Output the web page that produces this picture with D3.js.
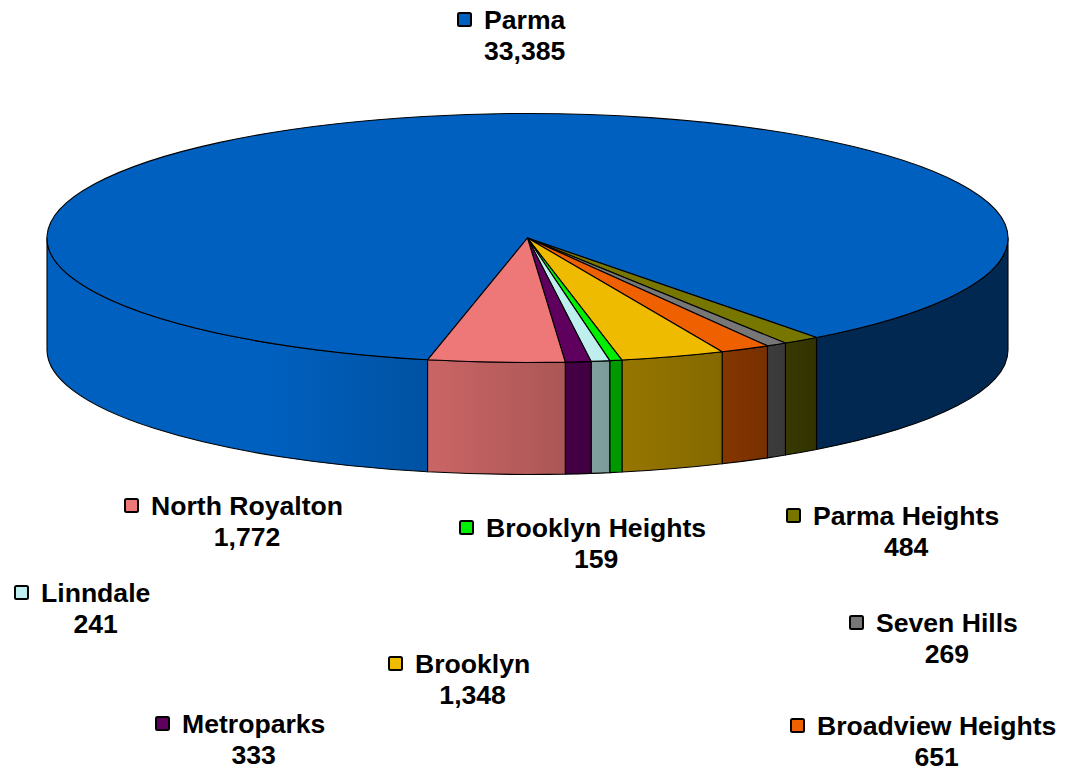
<!DOCTYPE html>
<html>
<head>
<meta charset="utf-8">
<script src="https://cdn.jsdelivr.net/npm/d3@7"></script>
<style>
  html, body { margin: 0; padding: 0; background: #fff; }
  svg { display: block; }
  text { font-family: "Liberation Sans", Arial, sans-serif; font-weight: bold; font-size: 26.6px; fill: #000; }
</style>
</head>
<body>
<svg id="chart" width="1065" height="770"></svg>
<script>
const categories = ['Parma', 'Parma Heights', 'Seven Hills', 'Broadview Heights', 'Brooklyn',
  'Brooklyn Heights', 'Linndale', 'Metroparks', 'North Royalton'];
const values = [33385, 484, 269, 651, 1348, 159, 241, 333, 1772];
const colors = ['#0060bf', '#777700', '#777777', '#ee6000', '#eebb00',
  '#00ee00', '#bfeeee', '#5f005f', '#ee7777'];

// where each legend entry sits: x of the name, baseline of the name
const labelX = [484, 813, 876, 817, 415, 486, 41, 182, 151];
const labelY = [29, 525, 632, 735, 673, 537, 602, 733, 515];

// wall shading, brightness against x
const shadeX = [47, 270, 428, 566, 592, 623, 722, 768, 817, 1008];
const shadeK = [1, 1, 0.85, 0.72, 0.67, 0.63, 0.56, 0.5, 0.42, 0.42];

const cx = 527.5;
const cy = 238;
const rx = 480.5;
const ry = 124.5;
const depth = 112;
const startDeg = 192;

const svg = d3.select('#chart');
const color = d3.scaleOrdinal(categories, colors);
const rad = (deg) => deg * Math.PI / 180;

const slices = d3.pie()
  .sort(null)
  .startAngle(rad(startDeg))
  .endAngle(rad(startDeg + 360))(values)
  .map((d, i) => ({ ...d, name: categories[i], i }));

const px = (a) => cx + rx * Math.sin(a);
const py = (a) => cy - ry * Math.cos(a);

// one gradient per colour, so the walls darken left to right across slices
const defs = svg.append('defs');
slices.forEach((d) => {
  const grad = defs.append('linearGradient')
    .attr('id', `wall-${d.i}`)
    .attr('gradientUnits', 'userSpaceOnUse')
    .attr('x1', shadeX[0])
    .attr('x2', shadeX[shadeX.length - 1])
    .attr('y1', 0)
    .attr('y2', 0);
  shadeX.forEach((x, j) => {
    const c = d3.rgb(color(d.name));
    grad.append('stop')
      .attr('offset', (x - shadeX[0]) / (shadeX[shadeX.length - 1] - shadeX[0]))
      .attr('stop-color', d3.rgb(c.r * shadeK[j], c.g * shadeK[j], c.b * shadeK[j]).formatHex());
  });
});

// visible part of the wall: the front half of the ellipse, 90..270 deg (and one turn on)
const walls = [];
slices.forEach((d) => {
  [[90, 270], [450, 630]].forEach(([lo, hi]) => {
    const a0 = Math.max(d.startAngle, rad(lo));
    const a1 = Math.min(d.endAngle, rad(hi));
    if (a1 > a0) walls.push({ a0, a1, i: d.i });
  });
});

const wallPath = ({ a0, a1 }) => {
  const large = a1 - a0 > Math.PI ? 1 : 0;
  return `M${px(a0)},${py(a0)}`
    + `A${rx},${ry} 0 ${large} 1 ${px(a1)},${py(a1)}`
    + `L${px(a1)},${py(a1) + depth}`
    + `A${rx},${ry} 0 ${large} 0 ${px(a0)},${py(a0) + depth}Z`;
};

svg.append('g').selectAll('path')
  .data(walls)
  .enter()
  .append('path')
  .attr('d', wallPath)
  .attr('fill', (d) => `url(#wall-${d.i})`)
  .attr('stroke', '#000')
  .attr('stroke-width', 1.1)
  .attr('stroke-linejoin', 'round');

const arc = d3.arc().innerRadius(0).outerRadius(rx);

svg.append('g')
  .attr('transform', `translate(${cx},${cy}) scale(1,${ry / rx})`)
  .selectAll('path')
  .data(slices)
  .enter()
  .append('path')
  .attr('d', arc)
  .attr('fill', (d) => color(d.name))
  .attr('stroke', '#000')
  .attr('stroke-width', 1.1)
  .attr('stroke-linejoin', 'round')
  .attr('vector-effect', 'non-scaling-stroke');

const fmt = d3.format(',');
const legend = svg.append('g').selectAll('g')
  .data(slices)
  .enter()
  .append('g')
  .attr('transform', (d) => `translate(${labelX[d.i]},${labelY[d.i]})`);

legend.append('rect')
  .attr('x', -26)
  .attr('y', -16)
  .attr('width', 13)
  .attr('height', 13)
  .attr('rx', 1.5)
  .attr('fill', (d) => color(d.name))
  .attr('stroke', '#000')
  .attr('stroke-width', 2);

legend.append('text')
  .attr('class', 'name')
  .text((d) => d.name);

legend.append('text')
  .attr('text-anchor', 'middle')
  .attr('y', 31)
  .attr('x', function () {
    return this.parentNode.querySelector('.name').getComputedTextLength() / 2;
  })
  .text((d) => fmt(d.value));
</script>
</body>
</html>
